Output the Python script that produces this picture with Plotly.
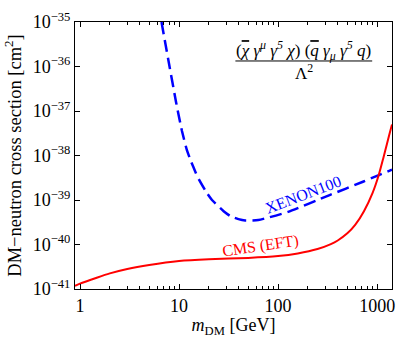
import plotly.graph_objects as go

# ---- data ----
cms_mass = [0.89, 1.0, 1.5, 2.0, 3.0, 5.0, 10.0, 20.0, 50.0, 100.0, 158.0, 250.0, 341.0,
            400.0, 500.0, 600.0, 736.0, 900.0, 1040.0, 1150.0, 1250.0, 1330.0, 1413.0]
cms_xsec = [1.17e-41, 1.32e-41, 1.82e-41, 2.24e-41, 2.82e-41, 3.47e-41, 4.27e-41, 4.68e-41,
            5.0e-41, 5.5e-41, 6.3e-41, 7.9e-41, 1.02e-40, 1.23e-40, 1.78e-40, 2.75e-40,
            5.6e-40, 1.45e-39, 3.7e-39, 8.5e-39, 1.75e-38, 3.0e-38, 5.0e-38]

xenon_mass = [6.65, 7.94, 9.33, 10.7, 12.0, 13.2, 14.7, 15.8, 19.2, 21.5, 28.2, 32.9, 39.8,
              46.5, 63.1, 126.0, 331.0, 719.0, 1040.0, 1413.0]
xenon_xsec = [1e-35, 1.12e-36, 1.58e-37, 3.55e-38, 1.32e-38, 7.4e-39, 4.17e-39, 2.95e-39,
              1.41e-39, 1.0e-39, 5.6e-40, 4.37e-40, 3.72e-40, 3.47e-40, 3.55e-40, 5.4e-40,
              1.29e-39, 2.57e-39, 3.63e-39, 4.8e-39]

x_tickvals = [1, 10, 100, 1000]
x_ticktext = ["1", "10", "100", "1000"]
y_tickvals = [1e-41, 1e-40, 1e-39, 1e-38, 1e-37, 1e-36, 1e-35]
y_ticktext = ["10<sup>\u221241</sup>", "10<sup>\u221240</sup>", "10<sup>\u221239</sup>",
              "10<sup>\u221238</sup>", "10<sup>\u221237</sup>", "10<sup>\u221236</sup>",
              "10<sup>\u221235</sup>"]

FONT = "Liberation Serif"

fig = go.Figure()
fig.add_trace(go.Scatter(x=xenon_mass, y=xenon_xsec, mode="lines", name="XENON100",
                         line=dict(color="#0000ff", width=2.5, dash="12px,6px", shape="spline",
                                   smoothing=0.5)))
fig.add_trace(go.Scatter(x=cms_mass, y=cms_xsec, mode="lines", name="CMS (EFT)",
                         line=dict(color="#ff0000", width=2, shape="spline", smoothing=0.5)))

axis_common = dict(showline=True, linecolor="black", linewidth=1, mirror="allticks",
                   ticks="inside", ticklen=5, tickcolor="black", showgrid=False,
                   zeroline=False, tickfont=dict(family=FONT, size=18, color="black"))

fig.update_xaxes(type="log", range=[-0.0506, 3.15], tickvals=x_tickvals, ticktext=x_ticktext,
                 minor=dict(ticks="inside", ticklen=3, tickcolor="black", dtick="D1",
                            showgrid=False),
                 title=dict(text="<i>m</i><sub>DM</sub> [GeV]",
                            font=dict(family=FONT, size=18, color="black"), standoff=0),
                 **axis_common)
fig.update_yaxes(type="log", range=[-41, -35], tickvals=y_tickvals, ticktext=y_ticktext,
                 title=dict(text="DM\u2212neutron cross section [cm<sup>2</sup>]",
                            font=dict(family=FONT, size=18.5, color="black"), standoff=6),
                 **axis_common)

fig.add_annotation(x=2.255, y=-38.87, xref="x", yref="y", text="XENON100", showarrow=False,
                   textangle=-21, font=dict(family=FONT, size=16, color="#0000ff"))
fig.add_annotation(x=1.82, y=-40.03, xref="x", yref="y", text="CMS (EFT)", showarrow=False,
                   textangle=-8.5, font=dict(family=FONT, size=16, color="#ff0000"))

# operator label (fraction)
ov = '<span style="text-decoration:overline">{}</span>'
numerator = ("(" + "<i>" + ov.format("\u03c7") + " \u03b3<sup>\u03bc</sup> \u03b3<sup>5</sup> \u03c7</i>"
             + ") (" + "<i>" + ov.format("q") + " \u03b3<sub>\u03bc</sub> \u03b3<sup>5</sup> q</i>" + ")")
fig.add_annotation(x=0.722, y=0.895, xref="paper", yref="paper", text=numerator,
                   showarrow=False, xanchor="center", yanchor="middle",
                   font=dict(family=FONT, size=17, color="black"))
fig.add_annotation(x=0.722, y=0.813, xref="paper", yref="paper",
                   text="\u039b<sup>2</sup>", showarrow=False, xanchor="center", yanchor="middle",
                   font=dict(family=FONT, size=17, color="black"))
fig.add_shape(type="line", xref="paper", yref="paper", x0=0.506, x1=0.9375, y0=0.854, y1=0.854,
              line=dict(color="black", width=1))

fig.update_layout(width=399, height=338, margin=dict(l=75, r=4, t=22, b=49),
                  plot_bgcolor="white", paper_bgcolor="white", showlegend=False,
                  font=dict(family=FONT, color="black"))

fig.write_html("out.html", config={"displayModeBar": False},
               post_script="document.body.style.margin='0';document.body.style.overflow='hidden';")
